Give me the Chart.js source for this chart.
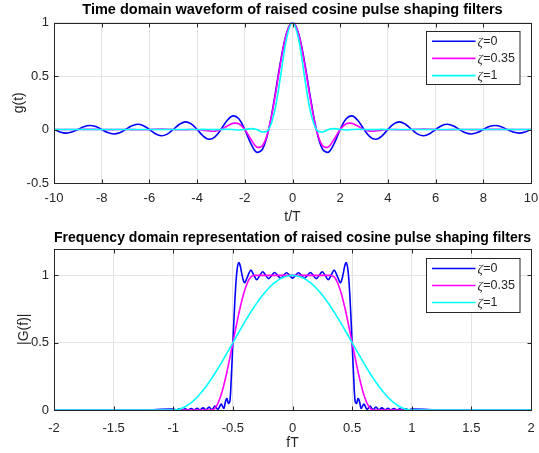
<!DOCTYPE html>
<html>
<head>
<meta charset="utf-8">
<script src="https://cdn.jsdelivr.net/npm/chart.js"></script>
<style>
  html, body { margin: 0; padding: 0; background: #fff; }
  #wrap { position: relative; width: 539px; height: 453px; }
  canvas { position: absolute; left: 0; }
</style>
</head>
<body>
<div id="wrap">
  <canvas id="timeChart" width="539" height="226" style="top:0"></canvas>
  <canvas id="freqChart" width="539" height="227" style="top:226px"></canvas>
</div>
<script>
// ---- datos: dominio del tiempo (t/T de -10 a 10, paso 0.25) ----
const tAxis = [
  -10, -9.75, -9.5, -9.25, -9, -8.75, -8.5, -8.25,
  -8, -7.75, -7.5, -7.25, -7, -6.75, -6.5, -6.25,
  -6, -5.75, -5.5, -5.25, -5, -4.75, -4.5, -4.25,
  -4, -3.75, -3.5, -3.25, -3, -2.75, -2.5, -2.25,
  -2, -1.75, -1.5, -1.25, -1, -0.75, -0.5, -0.25,
  0, 0.25, 0.5, 0.75, 1, 1.25, 1.5, 1.75,
  2, 2.25, 2.5, 2.75, 3, 3.25, 3.5, 3.75,
  4, 4.25, 4.5, 4.75, 5, 5.25, 5.5, 5.75,
  6, 6.25, 6.5, 6.75, 7, 7.25, 7.5, 7.75,
  8, 8.25, 8.5, 8.75, 9, 9.25, 9.5, 9.75,
  10
];
const gZeta0 = [
  0, -0.023, -0.034, -0.024, 0, 0.026, 0.037, 0.027,
  0, -0.029, -0.042, -0.031, 0, 0.033, 0.049, 0.036,
  0, -0.039, -0.058, -0.043, 0, 0.047, 0.071, 0.053,
  0, -0.060, -0.091, -0.069, 0, 0.082, 0.127, 0.100,
  0, -0.129, -0.212, -0.180, 0, 0.300, 0.637, 0.900,
  1, 0.900, 0.637, 0.300, 0, -0.180, -0.212, -0.129,
  0, 0.100, 0.127, 0.082, 0, -0.069, -0.091, -0.060,
  0, 0.053, 0.071, 0.047, 0, -0.043, -0.058, -0.039,
  0, 0.036, 0.049, 0.033, 0, -0.031, -0.042, -0.029,
  0, 0.027, 0.037, 0.026, 0, -0.024, -0.034, -0.023,
  0
];
const gZeta035 = [
  0, 0, 0, 0, 0, 0.001, 0.001, 0.001,
  0, -0.001, -0.001, 0, 0, -0.001, -0.002, -0.002,
  0, 0.003, 0.004, 0.003, 0, -0.002, -0.002, 0,
  0, -0.006, -0.014, -0.015, 0, 0.030, 0.057, 0.053,
  0, -0.089, -0.163, -0.150, 0, 0.281, 0.619, 0.894,
  1, 0.894, 0.619, 0.281, 0, -0.150, -0.163, -0.089,
  0, 0.053, 0.057, 0.030, 0, -0.015, -0.014, -0.006,
  0, 0, -0.002, -0.002, 0, 0.003, 0.004, 0.003,
  0, -0.002, -0.002, -0.001, 0, 0, -0.001, -0.001,
  0, 0.001, 0.001, 0.001, 0, 0, 0, 0,
  0
];
const gZeta1 = [
  0, 0, 0, 0, 0, 0, 0, 0,
  0, 0, 0, 0, 0, 0, 0, 0,
  0, 0, 0, 0, 0, 0, 0, 0,
  0, 0.001, 0, -0.001, 0, 0.002, 0, -0.004,
  0, 0.008, 0, -0.024, 0, 0.170, 0.500, 0.849,
  1, 0.849, 0.500, 0.170, 0, -0.024, 0, 0.008,
  0, -0.004, 0, 0.002, 0, -0.001, 0, 0.001,
  0, 0, 0, 0, 0, 0, 0, 0,
  0, 0, 0, 0, 0, 0, 0, 0,
  0, 0, 0, 0, 0, 0, 0, 0,
  0
];

// ---- datos: dominio de la frecuencia (fT de -2 a 2) ----
const fAxis = [
  -2, -1.5, -1.25,
  -1, -0.975, -0.95, -0.925, -0.9, -0.875, -0.85, -0.825, -0.8, -0.775, -0.75, -0.725, -0.7, -0.675, -0.65, -0.625, -0.6,
  -0.5875, -0.575, -0.5625, -0.55, -0.5375, -0.525, -0.5125, -0.5, -0.4875, -0.475, -0.4625, -0.45, -0.4375, -0.425, -0.4125,
  -0.4, -0.375, -0.35, -0.325, -0.3, -0.275, -0.25, -0.225, -0.2, -0.175, -0.15, -0.125, -0.1, -0.075, -0.05, -0.025,
  0, 0.025, 0.05, 0.075, 0.1, 0.125, 0.15, 0.175, 0.2, 0.225, 0.25, 0.275, 0.3, 0.325, 0.35, 0.375, 0.4,
  0.4125, 0.425, 0.4375, 0.45, 0.4625, 0.475, 0.4875, 0.5, 0.5125, 0.525, 0.5375, 0.55, 0.5625, 0.575, 0.5875,
  0.6, 0.625, 0.65, 0.675, 0.7, 0.725, 0.75, 0.775, 0.8, 0.825, 0.85, 0.875, 0.9, 0.925, 0.95, 0.975, 1,
  1.25, 1.5, 2
];
const GZeta0 = [
  0, 0, 0,
  0.007, 0, 0.008, 0, 0.009, 0.001, 0.011, 0.001, 0.013, 0.001, 0.016, 0.002, 0.021, 0.003, 0.029, 0.005, 0.044,
  0.029, 0.012, 0.061, 0.085, 0.050, 0.064, 0.255, 0.495, 0.738, 0.936, 1.057, 1.095, 1.068, 1.012, 0.964,
  0.946, 0.995, 1.039, 1.003, 0.969, 0.999, 1.027, 1.001, 0.976, 0.999, 1.022, 1.000, 0.979, 1.000, 1.020, 1.000,
  0.980, 1.000, 1.020, 1.000, 0.979, 1.000, 1.022, 0.999, 0.976, 1.001, 1.027, 0.999, 0.969, 1.003, 1.039, 0.995, 0.946,
  0.964, 1.012, 1.068, 1.095, 1.057, 0.936, 0.738, 0.495, 0.255, 0.064, 0.050, 0.085, 0.061, 0.012, 0.029,
  0.044, 0.005, 0.029, 0.003, 0.021, 0.002, 0.016, 0.001, 0.013, 0.001, 0.011, 0.001, 0.009, 0, 0.008, 0, 0.007,
  0, 0, 0
];
const GZeta035 = [
  0, 0, 0,
  0, 0, 0, 0, 0, 0, 0, 0, 0, 0, 0, 0, 0, 0, 0.013, 0.050, 0.109,
  0.146, 0.188, 0.234, 0.283, 0.335, 0.389, 0.444, 0.5, 0.556, 0.611, 0.665, 0.717, 0.766, 0.812, 0.854,
  0.891, 0.951, 0.988, 1, 1, 1, 1, 1, 1, 1, 1, 1, 1, 1, 1, 1,
  1, 1, 1, 1, 1, 1, 1, 1, 1, 1, 1, 1, 1, 1, 0.988, 0.951, 0.891,
  0.854, 0.812, 0.766, 0.717, 0.665, 0.611, 0.556, 0.5, 0.444, 0.389, 0.335, 0.283, 0.234, 0.188, 0.146,
  0.109, 0.050, 0.013, 0, 0, 0, 0, 0, 0, 0, 0, 0, 0, 0, 0, 0, 0,
  0, 0, 0
];
const GZeta1 = [
  0, 0, 0,
  0, 0.002, 0.006, 0.014, 0.024, 0.038, 0.054, 0.074, 0.095, 0.120, 0.146, 0.175, 0.206, 0.239, 0.273, 0.309, 0.345,
  0.364, 0.383, 0.403, 0.422, 0.441, 0.461, 0.480, 0.5, 0.520, 0.539, 0.559, 0.578, 0.598, 0.617, 0.636,
  0.655, 0.691, 0.727, 0.761, 0.794, 0.825, 0.854, 0.880, 0.905, 0.926, 0.946, 0.962, 0.976, 0.986, 0.994, 0.998,
  1, 0.998, 0.994, 0.986, 0.976, 0.962, 0.946, 0.926, 0.905, 0.880, 0.854, 0.825, 0.794, 0.761, 0.727, 0.691, 0.655,
  0.636, 0.617, 0.598, 0.578, 0.559, 0.539, 0.520, 0.5, 0.480, 0.461, 0.441, 0.422, 0.403, 0.383, 0.364,
  0.345, 0.309, 0.273, 0.239, 0.206, 0.175, 0.146, 0.120, 0.095, 0.074, 0.054, 0.038, 0.024, 0.014, 0.006, 0.002, 0,
  0, 0, 0
];

const etiquetas = ['0', '0.35', '1'];
const colores = ['#0000ff', '#ff00ff', '#00ffff'];

const TINTA = '#262626';
const REJILLA = '#e3e3e3';
Chart.defaults.font.family = "'Liberation Sans', Arial, sans-serif";
Chart.defaults.color = TINTA;

function puntos(xs, ys) {
  return xs.map((x, i) => ({ x: x, y: ys[i] }));
}

function series(xs, lista) {
  return lista.map((ys, i) => ({
    label: etiquetas[i],
    data: puntos(xs, ys),
    borderColor: colores[i],
    backgroundColor: colores[i],
    borderWidth: 1.6,
    pointRadius: 0,
    tension: 0.35,
    fill: false,
    order: 3 - i
  }));
}

// caja estilo matlab + leyenda dentro del area
const cajaMatlab = {
  id: 'cajaMatlab',
  afterDatasetsDraw(chart, args, opts) {
    const { ctx, chartArea: a, scales } = chart;
    const L = Math.round(a.left) + 0.5, R = Math.round(a.right) + 0.5;
    const T = Math.round(a.top) + 0.5, B = Math.round(a.bottom) + 0.5;
    ctx.save();
    ctx.strokeStyle = TINTA;
    ctx.lineWidth = 1;
    ctx.strokeRect(L, T, R - L, B - T);
    const len = 4;
    ctx.beginPath();
    scales.x.ticks.forEach(t => {
      const px = Math.round(scales.x.getPixelForValue(t.value)) + 0.5;
      ctx.moveTo(px, B); ctx.lineTo(px, B - len);
      ctx.moveTo(px, T); ctx.lineTo(px, T + len);
    });
    scales.y.ticks.forEach(t => {
      const py = Math.round(scales.y.getPixelForValue(t.value)) + 0.5;
      ctx.moveTo(L, py); ctx.lineTo(L + len, py);
      ctx.moveTo(R, py); ctx.lineTo(R - len, py);
    });
    ctx.stroke();

    // leyenda
    const bx = Math.round(a.right - opts.derecha) + 0.5;
    const by = Math.round(a.top + opts.arriba) + 0.5;
    ctx.fillStyle = '#fff';
    ctx.fillRect(bx, by, opts.ancho, opts.alto);
    ctx.strokeStyle = TINTA;
    ctx.strokeRect(bx, by, opts.ancho, opts.alto);
    chart.data.datasets.forEach((ds, i) => {
      const y = by + opts.fila0 + i * opts.paso;
      ctx.strokeStyle = ds.borderColor;
      ctx.lineWidth = 1.6;
      ctx.beginPath();
      ctx.moveTo(bx + 5.5, y);
      ctx.lineTo(bx + 49, y);
      ctx.stroke();
      ctx.fillStyle = TINTA;
      ctx.textBaseline = 'middle';
      ctx.textAlign = 'left';
      ctx.font = "italic 13px 'Liberation Serif', serif";
      ctx.fillText('ζ', bx + 51, y + 1);
      const w = ctx.measureText('ζ').width;
      ctx.font = "12.5px 'Liberation Sans', Arial, sans-serif";
      ctx.fillText('=' + ds.label, bx + 51 + w + 0.5, y);
    });
    ctx.restore();
  }
};

function opciones(cfg) {
  return {
    responsive: false,
    animation: false,
    layout: { padding: { left: 0, right: 8, top: 0, bottom: 0 } },
    plugins: {
      legend: { display: false },
      tooltip: { enabled: false },
      title: {
        display: true,
        fullSize: false,
        text: cfg.titulo,
        color: '#000',
        font: { size: 14.5, weight: 'bold' },
        padding: cfg.tituloPad
      },
      cajaMatlab: cfg.leyenda
    },
    scales: {
      x: {
        type: 'linear',
        min: cfg.xMin, max: cfg.xMax,
        ticks: { stepSize: cfg.xPaso, padding: cfg.xTickPad, font: { size: 13 }, maxRotation: 0, includeBounds: false,
                 callback: v => String(v) },
        grid: { color: REJILLA, drawTicks: false },
        border: { display: false },
        title: { display: true, text: cfg.xTitulo, font: { size: 14 }, padding: { top: 0, bottom: cfg.xTitPad } },
        afterFit: s => { s.height = cfg.altoX; s.paddingLeft = 0; s.paddingRight = 0; }
      },
      y: {
        type: 'linear',
        min: cfg.yMin, max: cfg.yMax,
        ticks: { stepSize: 0.5, padding: 5, font: { size: 13 }, includeBounds: false,
                 callback: v => String(v) },
        grid: { color: REJILLA, drawTicks: false },
        border: { display: false },
        title: { display: true, text: cfg.yTitulo, font: { size: 14 }, padding: { top: cfg.yTitPad, bottom: 0 } },
        afterFit: s => { s.width = 54; s.paddingTop = 0; s.paddingBottom = 0; }
      }
    }
  };
}

new Chart(document.getElementById('timeChart'), {
  type: 'line',
  data: { datasets: series(tAxis, [gZeta0, gZeta035, gZeta1]) },
  options: opciones({
    titulo: 'Time domain waveform of raised cosine pulse shaping filters',
    tituloPad: { top: 0.8, bottom: 4.3 },
    xMin: -10, xMax: 10, xPaso: 2, xTitulo: 't/T', xTitPad: 0.6, altoX: 43, xTickPad: 8,
    yMin: -0.5, yMax: 1, yTitulo: 'g(t)', yTitPad: 10.6,
    leyenda: { derecha: 105.5, arriba: 8.5, ancho: 93.5, alto: 53, fila0: 9.7, paso: 17.2 }
  }),
  plugins: [cajaMatlab]
});

new Chart(document.getElementById('freqChart'), {
  type: 'line',
  data: { datasets: series(fAxis, [GZeta0, GZeta035, GZeta1]) },
  options: opciones({
    titulo: 'Frequency domain representation of raised cosine pulse shaping filters',
    tituloPad: { top: 3.6, bottom: 1.5 },
    xMin: -2, xMax: 2, xPaso: 0.5, xTitulo: 'fT', xTitPad: 1.1, altoX: 43, xTickPad: 11,
    yMin: 0, yMax: 1.2, yTitulo: '|G(f)|', yTitPad: 15.6,
    leyenda: { derecha: 105.5, arriba: 9.5, ancho: 93.5, alto: 54, fila0: 10, paso: 17 }
  }),
  plugins: [cajaMatlab]
});
</script>
</body>
</html>
